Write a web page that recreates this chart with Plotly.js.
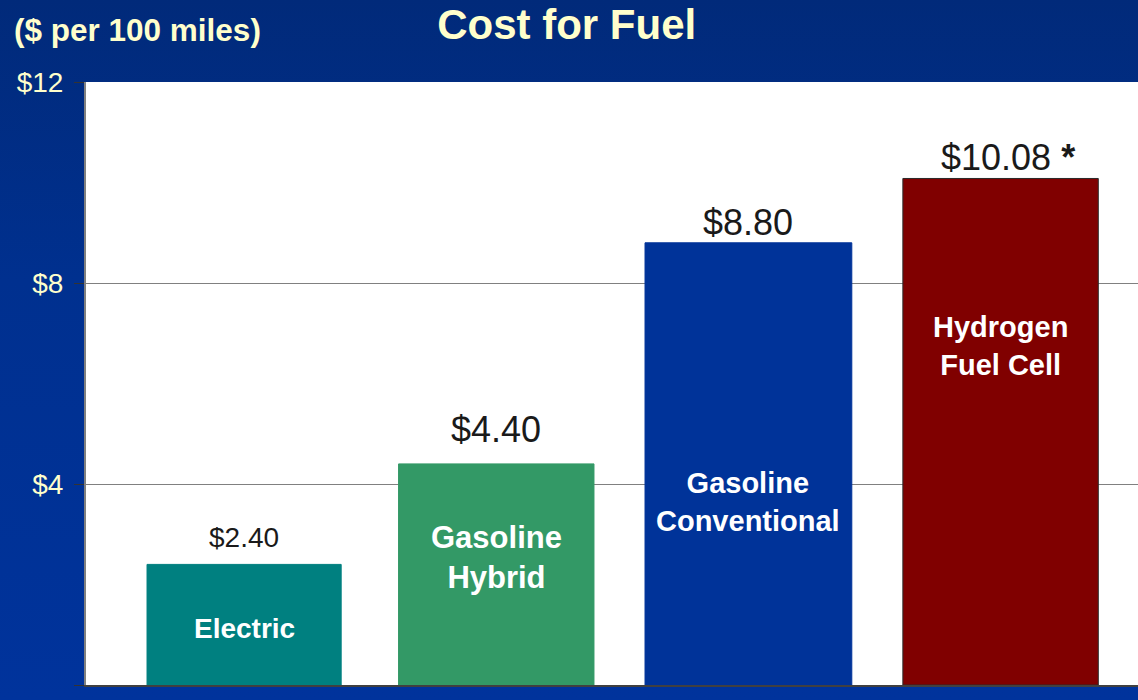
<!DOCTYPE html>
<html>
<head>
<meta charset="utf-8">
<script src="https://cdn.plot.ly/plotly-3.0.1.min.js"></script>
<style>
  html, body { margin: 0; padding: 0; }
  #chart { width: 1138px; height: 700px;
    background: linear-gradient(180deg, #012a7a 0%, #00308f 40%, #00339c 100%); }
</style>
</head>
<body>
<div id="chart"></div>
<script>
// ---- data ----
const categories = ["Electric", "Gasoline Hybrid", "Gasoline Conventional", "Hydrogen Fuel Cell"];
const barNames = ["Electric", "Gasoline<br>Hybrid", "Gasoline<br>Conventional", "Hydrogen<br>Fuel Cell"];
const costPer100Miles = [2.40, 4.40, 8.80, 10.08];
const valueNotes = ["", "", "", "*"];
const yTickValues = [0, 4, 8, 12];
const yTickLabels = ["$0", "$4", "$8", "$12"];

// ---- styling (not data) ----
const barColors = ["#008080", "#339966", "#003399", "#800000"];
const lineColors = ["#008080", "#339966", "#003399", "#2a2a2a"];
const barWidths = [0.77, 0.775, 0.82, 0.775];
const valueFontSizes = [28, 36, 36, 36];
const valueYShift = [9, 12, -2, -2];
const nameFontSizes = [28, 31, 29, 29];
const nameLabelY = [1.13, 2.54, 3.65, 6.74];
const FONT = "'Liberation Sans', Arial, sans-serif";
const YELLOW = "#FFFFCC";

const trace = {
  type: "bar",
  x: categories,
  y: costPer100Miles,
  width: barWidths,
  marker: { color: barColors, line: { color: lineColors, width: 1 } },
  hoverinfo: "skip"
};

const annotations = [];
categories.forEach((c, i) => {
  const note = valueNotes[i] ? " <b>" + valueNotes[i] + "</b>" : "";
  annotations.push({
    x: c, y: costPer100Miles[i], xref: "x", yref: "y",
    text: "$" + costPer100Miles[i].toFixed(2) + note,
    showarrow: false, yanchor: "bottom", yshift: valueYShift[i],
    xshift: valueNotes[i] ? 7 : 0,
    font: { family: FONT, size: valueFontSizes[i], color: "#1a1a1a" }
  });
  annotations.push({
    x: c, y: nameLabelY[i], xref: "x", yref: "y",
    text: "<b>" + barNames[i] + "</b>",
    showarrow: false, yanchor: "middle",
    font: { family: FONT, size: nameFontSizes[i], color: "#ffffff" }
  });
});
annotations.push({
  xref: "paper", yref: "paper", x: -0.0705, y: 1.087,
  xanchor: "left", yanchor: "middle", showarrow: false,
  text: "<b>($ per 100 miles)</b>",
  font: { family: FONT, size: 31.5, color: YELLOW }
});

const layout = {
  width: 1138, height: 700,
  margin: { l: 86, r: 0, t: 82, b: 15, pad: 0 },
  paper_bgcolor: "rgba(0,0,0,0)",
  plot_bgcolor: "#ffffff",
  showlegend: false,
  title: {
    text: "<b>Cost for Fuel</b>",
    x: 0.498, xref: "container", xanchor: "center",
    y: 0.966, yref: "container", yanchor: "middle",
    font: { family: FONT, size: 42, color: YELLOW }
  },
  xaxis: {
    type: "category",
    range: [-0.627, 3.545],
    showticklabels: false, ticks: "",
    showgrid: false, zeroline: false,
    showline: true, linecolor: "#404040", linewidth: 2,
    fixedrange: true
  },
  yaxis: {
    range: [0, 12],
    tickvals: yTickValues, ticktext: yTickLabels,
    ticks: "outside", ticklen: 10, tickcolor: "#333333", tickwidth: 1,
    ticklabelstandoff: 5,
    tickfont: { family: FONT, size: 28, color: YELLOW },
    showgrid: true, gridcolor: "#808080", gridwidth: 1,
    zeroline: false,
    showline: true, linecolor: "#808080", linewidth: 2,
    fixedrange: true
  },
  annotations: annotations
};

Plotly.newPlot("chart", [trace], layout, { displayModeBar: false, staticPlot: true });
</script>
</body>
</html>
